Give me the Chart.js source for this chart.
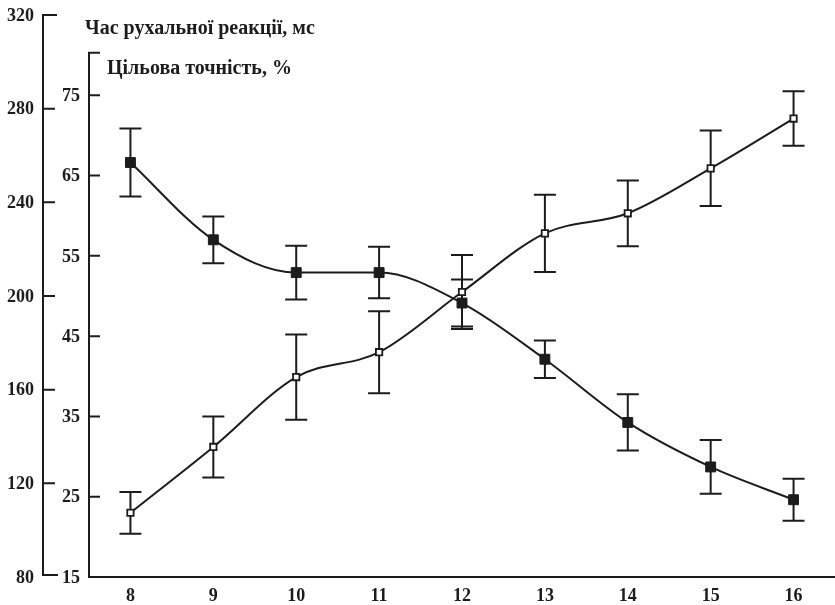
<!DOCTYPE html>
<html>
<head>
<meta charset="utf-8">
<script src="https://cdn.jsdelivr.net/npm/chart.js@4.4.1/dist/chart.umd.min.js"></script>
<style>
  html, body { margin: 0; padding: 0; background: #fff; }
</style>
</head>
<body>
<canvas id="chart" width="835" height="605"></canvas>
<script>
// --- Data (age, years) ---
const ages = ['8', '9', '10', '11', '12', '13', '14', '15', '16'];
const reactionTime = [257, 224, 210, 210, 197, 173, 146, 127, 113];      // ms
const reactionErr  = [14.5, 10, 11.5, 11, 10, 8, 12, 11.5, 9];
const accuracy     = [23, 31.2, 39.9, 43, 50.5, 57.8, 60.3, 65.9, 72.1]; // %
const accuracyErr  = [2.6, 3.8, 5.3, 5.1, 4.6, 4.8, 4.1, 4.7, 3.4];
const timeTicks = [80, 120, 160, 200, 240, 280, 320];
const accTicks  = [15, 25, 35, 45, 55, 65, 75];
const titleTime = 'Час рухальної реакції, мс';
const titleAcc  = 'Цільова точність, %';

const INK = '#1c1c1c';
const SERIF = '"Liberation Serif", "Times New Roman", serif';

// error bars go under the markers
const errorBars = {
    id: 'errorBars',
    beforeDatasetsDraw(chart) {
        const ctx = chart.ctx;
        chart.data.datasets.forEach((ds, i) => {
            const scale = chart.scales[ds.yAxisID];
            ctx.save();
            ctx.strokeStyle = INK;
            ctx.lineWidth = 2;
            chart.getDatasetMeta(i).data.forEach((pt, j) => {
                const hi = scale.getPixelForValue(ds.data[j] + ds.errors[j]);
                const lo = scale.getPixelForValue(ds.data[j] - ds.errors[j]);
                ctx.beginPath();
                ctx.moveTo(pt.x, hi); ctx.lineTo(pt.x, lo);
                ctx.moveTo(pt.x - 11, hi); ctx.lineTo(pt.x + 11, hi);
                ctx.moveTo(pt.x - 11, lo); ctx.lineTo(pt.x + 11, lo);
                ctx.stroke();
            });
            ctx.restore();
        });
    }
};

// the two stacked left axes with inward ticks, plus the two headings
const leftAxes = {
    id: 'leftAxes',
    afterDraw(chart) {
        const { ctx, chartArea } = chart;
        const yT = chart.scales.yTime;
        const yA = chart.scales.yAcc;
        ctx.save();
        ctx.strokeStyle = INK;
        ctx.fillStyle = INK;
        ctx.lineWidth = 2;
        ctx.font = 'bold 18px ' + SERIF;
        ctx.textAlign = 'right';
        ctx.textBaseline = 'middle';

        // outer axis: ms
        const xo = 43;
        const top = yT.getPixelForValue(timeTicks[timeTicks.length - 1]);
        const bot = yT.getPixelForValue(timeTicks[0]) - 2;
        ctx.beginPath();
        ctx.moveTo(xo + 14, top); ctx.lineTo(xo, top);
        ctx.lineTo(xo, bot); ctx.lineTo(xo + 15, bot);
        timeTicks.slice(1, -1).forEach(v => {
            const y = yT.getPixelForValue(v);
            ctx.moveTo(xo, y); ctx.lineTo(xo + 12, y);
        });
        ctx.stroke();
        timeTicks.forEach((v, k) => {
            let y = yT.getPixelForValue(v);
            if (k === 0) y = bot + 2;
            ctx.fillText(String(v), xo - 9, y + 1);
        });

        // inner axis: %
        const xi = chartArea.left;
        const topI = yA.getPixelForValue(80.3);
        ctx.beginPath();
        ctx.moveTo(xi + 11, topI); ctx.lineTo(xi, topI);
        ctx.lineTo(xi, chartArea.bottom);
        accTicks.slice(1).forEach(v => {
            const y = yA.getPixelForValue(v);
            ctx.moveTo(xi, y); ctx.lineTo(xi + 11, y);
        });
        ctx.stroke();
        accTicks.forEach(v => {
            ctx.fillText(String(v), xi - 9, yA.getPixelForValue(v) + 1);
        });

        // headings
        ctx.textAlign = 'left';
        ctx.font = 'bold 20px ' + SERIF;
        ctx.fillText(titleTime, 85, 29);
        ctx.fillText(titleAcc, 107, 69);
        ctx.restore();
    }
};

new Chart(document.getElementById('chart'), {
    type: 'line',
    data: {
        labels: ages,
        datasets: [
            {
                label: titleTime,
                data: reactionTime,
                errors: reactionErr,
                yAxisID: 'yTime',
                borderColor: INK,
                borderWidth: 2,
                cubicInterpolationMode: 'monotone',
                pointStyle: 'rect',
                pointRadius: 7,
                pointBackgroundColor: INK,
                pointBorderColor: INK,
                pointBorderWidth: 1
            },
            {
                label: titleAcc,
                data: accuracy,
                errors: accuracyErr,
                yAxisID: 'yAcc',
                borderColor: INK,
                borderWidth: 2,
                cubicInterpolationMode: 'monotone',
                pointStyle: 'rect',
                pointRadius: 4.5,
                pointBackgroundColor: '#ffffff',
                pointBorderColor: INK,
                pointBorderWidth: 1.8
            }
        ]
    },
    options: {
        responsive: false,
        animation: false,
        layout: { autoPadding: false, padding: { left: 89, top: 15, right: 0, bottom: 0 } },
        plugins: {
            legend: { display: false },
            tooltip: { enabled: false }
        },
        scales: {
            x: {
                type: 'category',
                offset: true,
                grid: { display: false, drawTicks: false },
                border: { display: true, color: INK, width: 2 },
                afterFit: scale => { scale.height = 28; },
                ticks: {
                    color: INK,
                    padding: 9,
                    maxRotation: 0,
                    autoSkip: false,
                    font: { family: SERIF, size: 18, weight: 'bold' }
                }
            },
            yTime: { type: 'linear', display: false, min: 80, max: 320 },
            yAcc:  { type: 'linear', display: false, min: 15, max: 85 }
        }
    },
    plugins: [errorBars, leftAxes]
});
</script>
</body>
</html>
